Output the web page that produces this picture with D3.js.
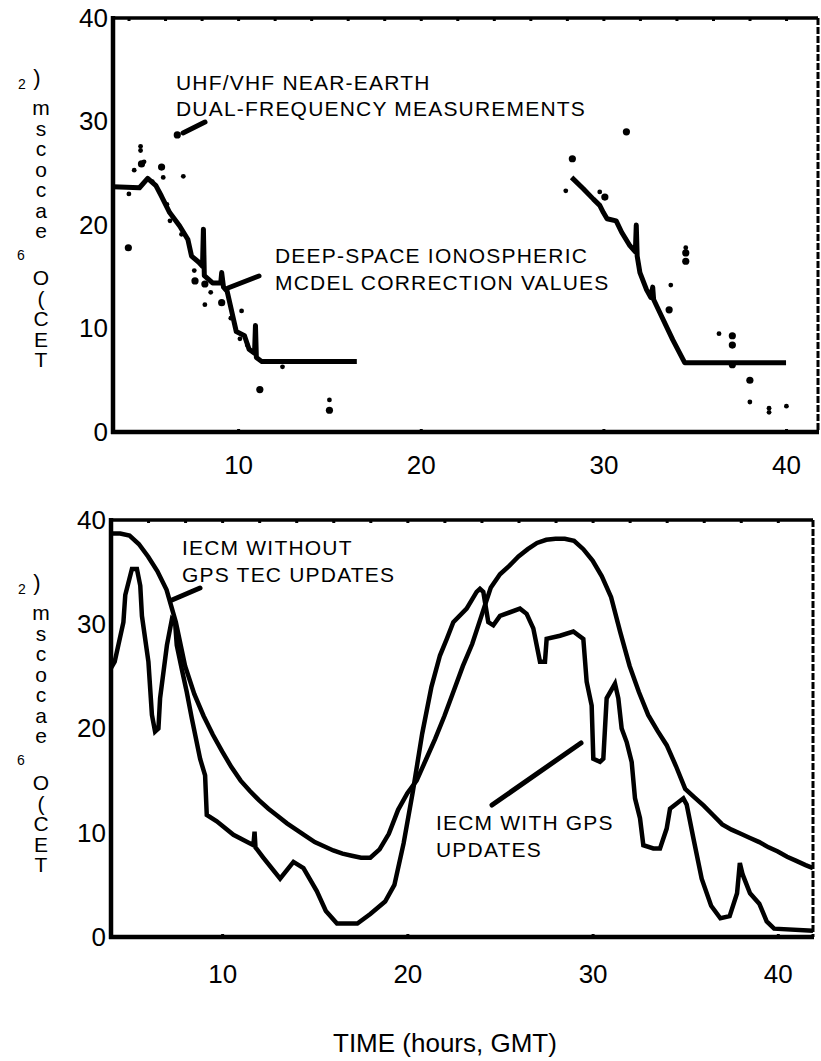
<!DOCTYPE html>
<html>
<head>
<meta charset="utf-8">
<script src="https://cdn.jsdelivr.net/npm/d3@7"></script>
<style>
  html, body { margin: 0; padding: 0; background: #fff; }
  svg { display: block; }
  text { font-family: "Liberation Sans", Arial, sans-serif; fill: #000; }
  .stack { writing-mode: vertical-rl; text-orientation: upright; }
</style>
</head>
<body>
<svg id="chart" width="821" height="1061"></svg>
<script>
// ---- Upper panel: deep-space model corrections (thick line) and near-earth measurements (dots)
const modelMorningHours = [3.15, 4.6, 5.05, 5.5, 5.8, 6.25, 6.8, 7.25, 7.45, 7.85, 8.05, 8.1, 8.15, 8.6, 9.05, 9.1, 9.2, 9.4, 9.9, 10.35, 10.6, 10.9, 10.95, 11.0, 11.3, 16.5];
const modelMorningTec   = [23.7, 23.6, 24.5, 23.8, 22.8, 21.2, 19.9, 18.6, 17.0, 16.4, 16.0, 19.6, 15.1, 14.4, 14.4, 15.4, 14.0, 13.6, 9.7, 9.3, 8.0, 7.6, 10.3, 7.2, 6.8, 6.8];
const modelEveningHours = [28.26, 28.9, 29.45, 29.8, 30.0, 30.2, 30.7, 31.0, 31.45, 31.75, 31.8, 31.85, 32.0, 32.35, 32.6, 32.7, 32.75, 33.1, 33.8, 34.45, 40.0];
const modelEveningTec   = [24.6, 23.5, 22.5, 21.9, 21.2, 20.6, 20.4, 19.3, 18.0, 17.4, 20.0, 17.0, 15.4, 13.8, 13.0, 14.0, 12.8, 11.5, 8.9, 6.7, 6.7];

const measHours = [6.67, 4.66, 4.66, 4.71, 4.85, 4.31, 5.81, 5.9, 7.0, 4.02, 3.99, 6.27, 7.64, 8.18, 8.18, 9.1, 10.19, 11.19, 12.43, 15.0, 15.0,
                   5.3, 6.1, 6.9, 7.6, 8.5, 9.6, 10.1, 10.5,
                   31.26, 28.3, 27.94, 29.8, 30.08, 34.51, 34.51, 34.51, 33.69, 33.6, 36.33, 37.06, 37.06, 38.02, 38.02, 39.07, 39.07, 40.02, 37.06];
const measTec   = [28.7, 27.6, 27.2, 25.9, 26.1, 25.3, 25.6, 24.6, 24.7, 23.0, 17.8, 20.4, 14.6, 14.3, 12.3, 12.5, 11.7, 4.1, 6.3, 3.1, 2.1,
                   24.2, 22.0, 19.1, 15.6, 13.5, 11.0, 9.0, 8.4,
                   29.0, 26.4, 23.3, 23.2, 22.7, 17.8, 17.3, 16.5, 14.2, 11.8, 9.5, 9.3, 8.4, 5.0, 2.9, 2.3, 1.9, 2.5, 6.5];
const measLarge = [1, 0, 0, 1, 0, 0, 1, 0, 0, 0, 1, 0, 1, 1, 0, 1, 0, 1, 0, 0, 1,
                   0, 0, 0, 0, 0, 0, 0, 0,
                   1, 1, 0, 0, 1, 0, 1, 1, 0, 1, 0, 1, 1, 1, 0, 0, 0, 0, 1];

// ---- Lower panel: IECM with and without GPS TEC updates
const noGpsHours = [4.0, 4.5, 5.0, 5.5, 6.0, 6.5, 7.0, 7.5, 8.0, 8.5, 9.0, 9.5, 10.0, 10.5, 11.0, 11.5, 12.0, 12.5, 13.0, 13.5, 14.0, 14.5, 15.0, 15.5, 16.0, 16.5, 17.0, 17.5, 18.0, 18.5, 19.0, 19.5, 20.0, 20.5, 21.0, 21.5, 22.0, 22.5, 23.0, 23.5, 24.0, 24.5, 25.0, 25.5, 26.0, 26.5, 27.0, 27.5, 28.0, 28.5, 29.0, 29.5, 30.0, 30.5, 31.0, 31.5, 32.0, 32.5, 33.0, 33.5, 34.0, 34.5, 35.0, 35.5, 36.0, 36.5, 37.0, 37.5, 38.0, 38.5, 39.0, 39.5, 40.0, 40.5, 41.0, 41.5, 41.9];
const noGpsTec   = [38.7, 38.7, 38.5, 37.7, 36.5, 35.1, 33.3, 30.2, 26.0, 23.3, 21.2, 19.4, 17.8, 16.3, 15.0, 14.0, 13.1, 12.3, 11.6, 10.9, 10.3, 9.7, 9.1, 8.7, 8.3, 8.0, 7.8, 7.6, 7.6, 8.4, 9.9, 12.2, 13.8, 15.0, 17.0, 19.0, 21.2, 23.6, 26.0, 28.1, 30.8, 33.5, 34.8, 35.6, 36.5, 37.2, 37.8, 38.1, 38.2, 38.2, 38.0, 37.2, 36.1, 34.6, 32.6, 29.2, 26.0, 23.5, 21.3, 19.8, 18.4, 16.4, 14.2, 13.4, 12.6, 11.7, 10.8, 10.3, 9.9, 9.5, 9.1, 8.6, 8.2, 7.7, 7.3, 6.9, 6.6];

const gpsHours = [4.0, 4.2, 4.67, 4.77, 5.13, 5.4, 5.58, 5.67, 6.02, 6.21, 6.38, 6.56, 6.65, 7.02, 7.29, 7.46, 7.55, 7.82, 8.09, 8.36, 8.81, 9.08, 9.17, 9.71, 10.61, 11.69, 11.75, 11.8, 12.23, 13.13, 13.85, 14.39, 15.11, 15.6, 16.2, 17.3, 18.0, 18.8, 19.3, 19.8, 20.3, 20.8, 21.3, 21.76, 22.13, 22.48, 23.2, 23.74, 23.92, 24.1, 24.37, 24.64, 25.0, 26.08, 26.44, 26.8, 27.16, 27.43, 27.52, 28.24, 28.96, 29.5, 29.68, 29.95, 30.04, 30.4, 30.58, 30.76, 31.21, 31.39, 31.57, 31.84, 32.11, 32.29, 32.56, 32.74, 33.28, 33.64, 34.0, 34.18, 34.9, 35.08, 35.44, 35.89, 36.4, 36.9, 37.4, 37.8, 37.95, 38.1, 38.5, 39.0, 39.4, 39.8, 41.9];
const gpsTec   = [25.8, 26.4, 30.2, 32.8, 35.3, 35.3, 33.7, 30.8, 26.4, 21.3, 19.7, 20.0, 22.9, 28.0, 30.5, 30.2, 28.0, 25.7, 23.5, 21.0, 17.1, 15.5, 11.7, 11.1, 9.8, 8.8, 10.1, 8.6, 7.6, 5.6, 7.2, 6.6, 4.4, 2.5, 1.3, 1.3, 2.2, 3.4, 5.0, 9.0, 14.0, 19.5, 24.0, 27.0, 28.6, 30.2, 31.5, 33.1, 33.4, 33.1, 30.2, 29.9, 30.8, 31.5, 31.0, 29.6, 26.4, 26.4, 28.6, 28.9, 29.3, 28.6, 24.5, 22.2, 17.1, 16.8, 17.1, 22.9, 24.3, 22.9, 20.0, 18.7, 16.8, 13.3, 11.4, 8.8, 8.5, 8.5, 10.4, 12.3, 13.3, 12.7, 9.5, 5.6, 3.0, 1.8, 2.0, 4.2, 7.1, 6.0, 4.2, 3.2, 1.5, 0.8, 0.6];

// ---- Axis ticks and text
const xTickValues = [10, 20, 30, 40];
const yTickValues = [0, 10, 20, 30, 40];
const xAxisTitle = "TIME (hours, GMT)";
const yCaptionUpper = "mscocae";
const yCaptionLower = "O(CET";

const svg = d3.select("#chart");

function panel(cfg) {
  const x = d3.scaleLinear().domain(cfg.xDomain).range([cfg.left, cfg.right]);
  const y = d3.scaleLinear().domain([0, 40]).range([cfg.bottom, cfg.top]);
  const g = svg.append("g");

  // inner minor ticks along the top edge
  g.append("g")
    .attr("transform", `translate(0,${cfg.top})`)
    .call(d3.axisBottom(x).tickValues(d3.range(4, 42, 2)).tickSize(3).tickFormat(""))
    .call(a => a.select(".domain").remove())
    .call(a => a.selectAll("line").attr("stroke-width", 3));
  // inner ticks along the bottom edge
  g.append("g")
    .attr("transform", `translate(0,${cfg.bottom})`)
    .call(d3.axisTop(x).tickValues(xTickValues).tickSize(3).tickFormat(""))
    .call(a => a.select(".domain").remove())
    .call(a => a.selectAll("line").attr("stroke-width", 3));

  // x tick labels
  g.append("g")
    .attr("transform", `translate(0,${cfg.bottom})`)
    .call(d3.axisBottom(x).tickValues(xTickValues).tickSize(0).tickPadding(cfg.xPad))
    .call(a => a.select(".domain").remove())
    .call(a => a.selectAll("text").attr("font-size", 26).attr("font-family", "Liberation Sans, Arial, sans-serif"));
  // y tick labels
  g.append("g")
    .attr("transform", `translate(${cfg.left},0)`)
    .call(d3.axisLeft(y).tickValues(yTickValues).tickSize(0).tickPadding(5))
    .call(a => a.select(".domain").remove())
    .call(a => a.selectAll("text").attr("font-size", 26).attr("font-family", "Liberation Sans, Arial, sans-serif"));

  // frame
  g.append("line").attr("x1", cfg.left).attr("x2", cfg.right).attr("y1", cfg.top).attr("y2", cfg.top)
    .attr("stroke", "#000").attr("stroke-width", 3.5);
  g.append("line").attr("x1", cfg.right).attr("x2", cfg.right).attr("y1", cfg.top).attr("y2", cfg.bottom)
    .attr("stroke", "#000").attr("stroke-width", 3).attr("stroke-dasharray", "7,2");
  g.append("line").attr("x1", cfg.left).attr("x2", cfg.left).attr("y1", cfg.top - 2).attr("y2", cfg.bottom + 2)
    .attr("stroke", "#000").attr("stroke-width", 4.5);
  g.append("line").attr("x1", cfg.left - 2).attr("x2", cfg.right + 1).attr("y1", cfg.bottom).attr("y2", cfg.bottom)
    .attr("stroke", "#000").attr("stroke-width", 4.5);

  return { x, y, g };
}

// y-axis caption: glyphs stacked one above another
function yCaption(y0) {
  const g = svg.append("g");
  g.append("text").attr("x", 22).attr("y", y0 + 9).attr("font-size", 14).attr("text-anchor", "middle").text("2");
  g.append("text").attr("x", 37).attr("y", y0 + 5).attr("font-size", 22).attr("text-anchor", "middle").text(")");
  g.append("text").attr("class", "stack").attr("x", 41).attr("y", y0 + 16)
    .attr("font-size", 21).attr("letter-spacing", -2.5).text(yCaptionUpper);
  g.append("text").attr("x", 21).attr("y", y0 + 180).attr("font-size", 14).attr("text-anchor", "middle").text("6");
  g.append("text").attr("class", "stack").attr("x", 41).attr("y", y0 + 186)
    .attr("font-size", 21).attr("letter-spacing", -2.5).text(yCaptionLower);
}

function note(lines, x, y0, dy) {
  const t = svg.append("text").attr("font-size", 21).attr("letter-spacing", 1.2);
  lines.forEach((s, i) => t.append("tspan").attr("x", x).attr("y", y0 + i * dy).text(s));
}

function leader(x1, y1, x2, y2, w) {
  svg.append("line").attr("x1", x1).attr("y1", y1).attr("x2", x2).attr("y2", y2)
    .attr("stroke", "#000").attr("stroke-width", w).attr("stroke-linecap", "round");
}

// ===== Upper panel =====
const upperPanel = panel({ left: 113, right: 818, top: 18, bottom: 432, xDomain: [3.15, 41.75], xPad: 24 });

const lineUpper = d3.line().x(d => upperPanel.x(d[0])).y(d => upperPanel.y(d[1]));
[[modelMorningHours, modelMorningTec], [modelEveningHours, modelEveningTec]].forEach(([h, v]) => {
  upperPanel.g.append("path")
    .datum(h.map((t, i) => [t, v[i]]))
    .attr("d", lineUpper)
    .attr("fill", "none").attr("stroke", "#000").attr("stroke-width", 5)
    .attr("stroke-linejoin", "round");
});

upperPanel.g.selectAll("circle.meas")
  .data(measHours.map((t, i) => ({ t, v: measTec[i], big: measLarge[i] })))
  .join("circle")
  .attr("class", "meas")
  .attr("cx", d => upperPanel.x(d.t))
  .attr("cy", d => upperPanel.y(d.v))
  .attr("r", d => d.big ? 3.6 : 2.4)
  .attr("fill", "#000");

note(["UHF/VHF NEAR-EARTH", "DUAL-FREQUENCY MEASUREMENTS"], 176, 90, 26);
leader(183, 133, 205, 122, 5);
note(["DEEP-SPACE IONOSPHERIC", "MCDEL CORRECTION VALUES"], 275, 263, 27);
leader(228, 288, 259, 276, 5);

// ===== Lower panel =====
const lowerPanel = panel({ left: 111, right: 813, top: 520, bottom: 937, xDomain: [4.0, 41.9], xPad: 28 });

const lineLower = d3.line().x(d => lowerPanel.x(d[0])).y(d => lowerPanel.y(d[1]));
[[noGpsHours, noGpsTec], [gpsHours, gpsTec]].forEach(([h, v]) => {
  lowerPanel.g.append("path")
    .datum(h.map((t, i) => [t, v[i]]))
    .attr("d", lineLower)
    .attr("fill", "none").attr("stroke", "#000").attr("stroke-width", 4.5)
    .attr("stroke-linejoin", "miter");
});

note(["IECM WITHOUT", "GPS TEC UPDATES"], 182, 555, 27);
leader(172, 600, 200, 588, 5);
note(["IECM WITH GPS", "UPDATES"], 436, 830, 27);
leader(492, 805, 581, 743, 5);

yCaption(80);
yCaption(585);

svg.append("text")
  .attr("x", 333).attr("y", 1052)
  .attr("font-size", 26)
  .text(xAxisTitle);
</script>
</body>
</html>
